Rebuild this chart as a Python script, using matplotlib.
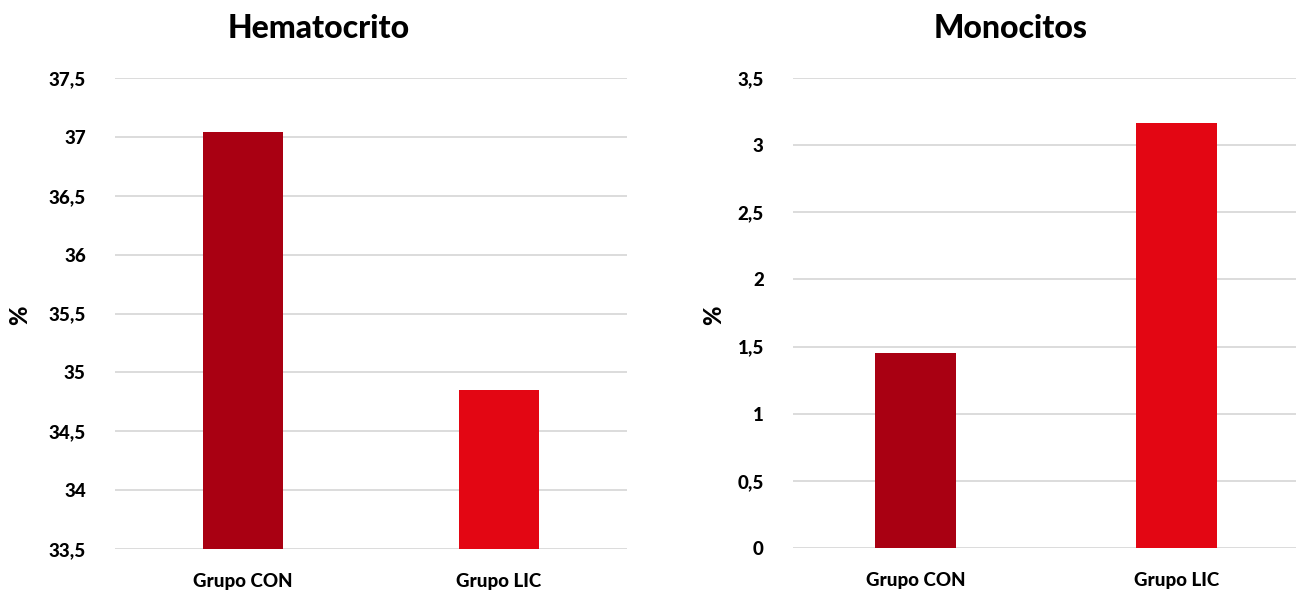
"""
Hematocrito y Monocitos: Grupo CON vs Grupo LIC.
"""
from matplotlib import pyplot
from matplotlib.ticker import FuncFormatter

groups = ["Grupo CON", "Grupo LIC"]
hematocrito = [37.04, 34.85]
monocitos = [1.455, 3.165]
bar_colors = ["#A90012", "#E30613"]

pyplot.rcParams["font.family"] = ["Lato", "DejaVu Sans"]
pyplot.rcParams["font.weight"] = "black"


def comma(v, pos):
    s = f"{v:g}"
    return s.replace(".", ",")


def bar_panel(ax, values, ylim, step, width, xlim):
    ax.bar(range(len(groups)), values, width=width, color=bar_colors, zorder=2)
    ax.set_ylim(*ylim)
    ax.set_xlim(*xlim)
    ticks = []
    t = ylim[0]
    while t <= ylim[1] + 1e-9:
        ticks.append(t)
        t += step
    ax.set_yticks(ticks)
    ax.yaxis.set_major_formatter(FuncFormatter(comma))
    ax.set_xticks(range(len(groups)))
    ax.set_xticklabels(groups)
    ax.grid(axis="y", color="#d9d9d9", linewidth=1.3, zorder=0)
    for s in ax.spines.values():
        s.set_visible(False)
    ax.tick_params(length=0, labelsize=13.5, colors="black")
    ax.tick_params(axis="y", pad=21)
    ax.tick_params(axis="x", pad=17)
    for lab in ax.get_xticklabels() + ax.get_yticklabels():
        lab.set_fontweight("black")


def main():
    W, H = 1296, 592
    fig = pyplot.figure(figsize=(W / 100, H / 100), dpi=100)

    ax1 = fig.add_axes([115 / W, 1 - 549 / H, (627 - 115) / W, (549 - 78) / H])
    bar_panel(ax1, hematocrito, (33.5, 37.5), 0.5, 0.316, (-0.5, 1.5))

    ax2 = fig.add_axes([793 / W, 1 - 548 / H, (1296 - 793) / W, (548 - 78) / H])
    bar_panel(ax2, monocitos, (0, 3.5), 0.5, 0.31, (-0.469, 1.458))

    fig.text(319 / W, 1 - 28 / H, "Hematocrito", ha="center", va="center",
             fontsize=23, fontweight="black")
    fig.text(1011 / W, 1 - 28 / H, "Monocitos", ha="center", va="center",
             fontsize=23, fontweight="black")
    fig.text(20 / W, 1 - 315 / H, "%", rotation=90, ha="center", va="center",
             fontsize=17, fontweight="black")
    fig.text(714 / W, 1 - 315 / H, "%", rotation=90, ha="center", va="center",
             fontsize=17, fontweight="black")

    fig.savefig("out.png", dpi=100)
    pyplot.close(fig)


if __name__ == "__main__":
    main()
